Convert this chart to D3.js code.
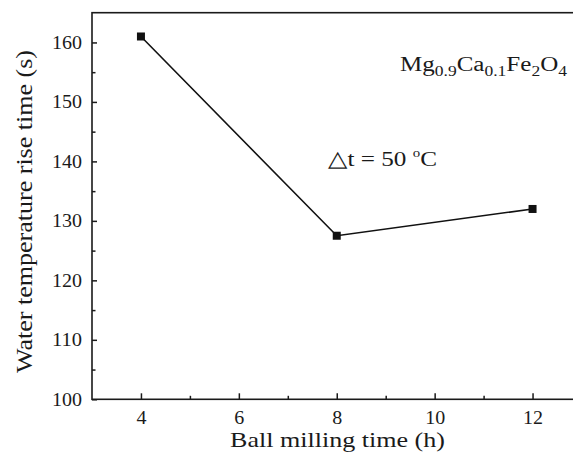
<!DOCTYPE html>
<html><head><meta charset="utf-8">
<script src="https://cdn.jsdelivr.net/npm/d3@7"></script>
<style>body{margin:0;background:#fff}svg{display:block}</style>
</head><body>
<svg id="c" width="573" height="459"></svg>
<script>
const millingTime = [4, 8, 12];
const riseTime = [161, 127.5, 132];
const xTicks = [4, 6, 8, 10, 12];
const xMinor = [5, 7, 9, 11];
const yTicks = [100, 110, 120, 130, 140, 150, 160];
const yMinor = [105, 115, 125, 135, 145, 155];
const xTitle = "Ball milling time (h)";
const yTitle = "Water temperature rise time (s)";

const svg = d3.select("#c");
const font = "Liberation Serif, Times New Roman, serif";
const ink = "#1a1a1a";
const x = d3.scaleLinear().domain([3, 13]).range([92, 581.5]);
const y = d3.scaleLinear().domain([100, 165]).range([399.3, 12.7]);

// frame
svg.append("rect").attr("x", x(3)).attr("y", y(165))
  .attr("width", x(13) - x(3)).attr("height", y(100) - y(165))
  .attr("fill", "none").attr("stroke", ink).attr("stroke-width", 1.6);

function styleLabels(g) {
  g.attr("font-family", font).attr("font-size", 18);
  g.selectAll("text").attr("fill", ink)
    .each(function () {
      const n = this.textContent.length;
      d3.select(this).attr("textLength", n * 10).attr("lengthAdjust", "spacingAndGlyphs");
    });
  g.selectAll("line").attr("stroke", ink).attr("stroke-width", 1.5);
}

// bottom axis
const gx = svg.append("g").attr("transform", `translate(0,${y(100)})`)
  .call(d3.axisBottom(x).tickValues(xTicks).tickSize(-6).tickPadding(11.5).tickFormat(d3.format("d")));
gx.select(".domain").remove();
styleLabels(gx);
svg.append("g").attr("transform", `translate(0,${y(100)})`)
  .call(d3.axisBottom(x).tickValues(xMinor).tickSize(-3.5).tickFormat(""))
  .call(g => g.select(".domain").remove())
  .selectAll("line").attr("stroke", ink).attr("stroke-width", 1.5);

// left axis
const gy = svg.append("g").attr("transform", `translate(${x(3)},0)`)
  .call(d3.axisLeft(y).tickValues(yTicks).tickSize(-5).tickPadding(10).tickFormat(d3.format("d")));
gy.select(".domain").remove();
styleLabels(gy);
svg.append("g").attr("transform", `translate(${x(3)},0)`)
  .call(d3.axisLeft(y).tickValues(yMinor).tickSize(-3.5).tickFormat(""))
  .call(g => g.select(".domain").remove())
  .selectAll("line").attr("stroke", ink).attr("stroke-width", 1.5);

// titles
svg.append("text").attr("x", 337.5).attr("y", 447).attr("text-anchor", "middle")
  .attr("textLength", 215).attr("lengthAdjust", "spacingAndGlyphs")
  .attr("font-family", font).attr("font-size", 22).attr("fill", ink).text(xTitle);
svg.append("text").attr("transform", "translate(32,211.5) rotate(-90)").attr("text-anchor", "middle")
  .attr("textLength", 323).attr("lengthAdjust", "spacingAndGlyphs")
  .attr("font-family", font).attr("font-size", 23).attr("fill", ink).text(yTitle);

// data
const pts = millingTime.map((d, i) => [d, riseTime[i]]);
svg.append("path").datum(pts)
  .attr("d", d3.line().x(d => x(d[0])).y(d => y(d[1])))
  .attr("fill", "none").attr("stroke", "#111").attr("stroke-width", 1.6);
svg.selectAll("rect.m").data(pts).enter().append("rect").attr("class", "m")
  .attr("x", d => x(d[0]) - 4).attr("y", d => y(d[1]) - 4)
  .attr("width", 8).attr("height", 8).attr("fill", "#111");

// annotations
const t1 = svg.append("text").attr("x", 400).attr("y", 71)
  .attr("textLength", 167).attr("lengthAdjust", "spacingAndGlyphs")
  .attr("font-family", font).attr("font-size", 20).attr("fill", ink);
[["Mg", 0], ["0.9", 1], ["Ca", 0], ["0.1", 1], ["Fe", 0], ["2", 1], ["O", 0], ["4", 1]].forEach(([s, sub], i, a) => {
  const prevSub = i > 0 && a[i - 1][1];
  const ts = t1.append("tspan").text(s);
  if (sub) ts.attr("font-size", 14).attr("dy", 5);
  else if (prevSub) ts.attr("dy", -5);
});
const t2 = svg.append("text").attr("x", 328).attr("y", 166)
  .attr("textLength", 109).attr("lengthAdjust", "spacingAndGlyphs")
  .attr("font-family", font).attr("font-size", 22).attr("fill", ink);
t2.append("tspan").text("\u25B3t = 50 ");
t2.append("tspan").attr("font-size", 13).attr("dy", -9).text("o");
t2.append("tspan").attr("dy", 9).text("C");
</script>
</body></html>
